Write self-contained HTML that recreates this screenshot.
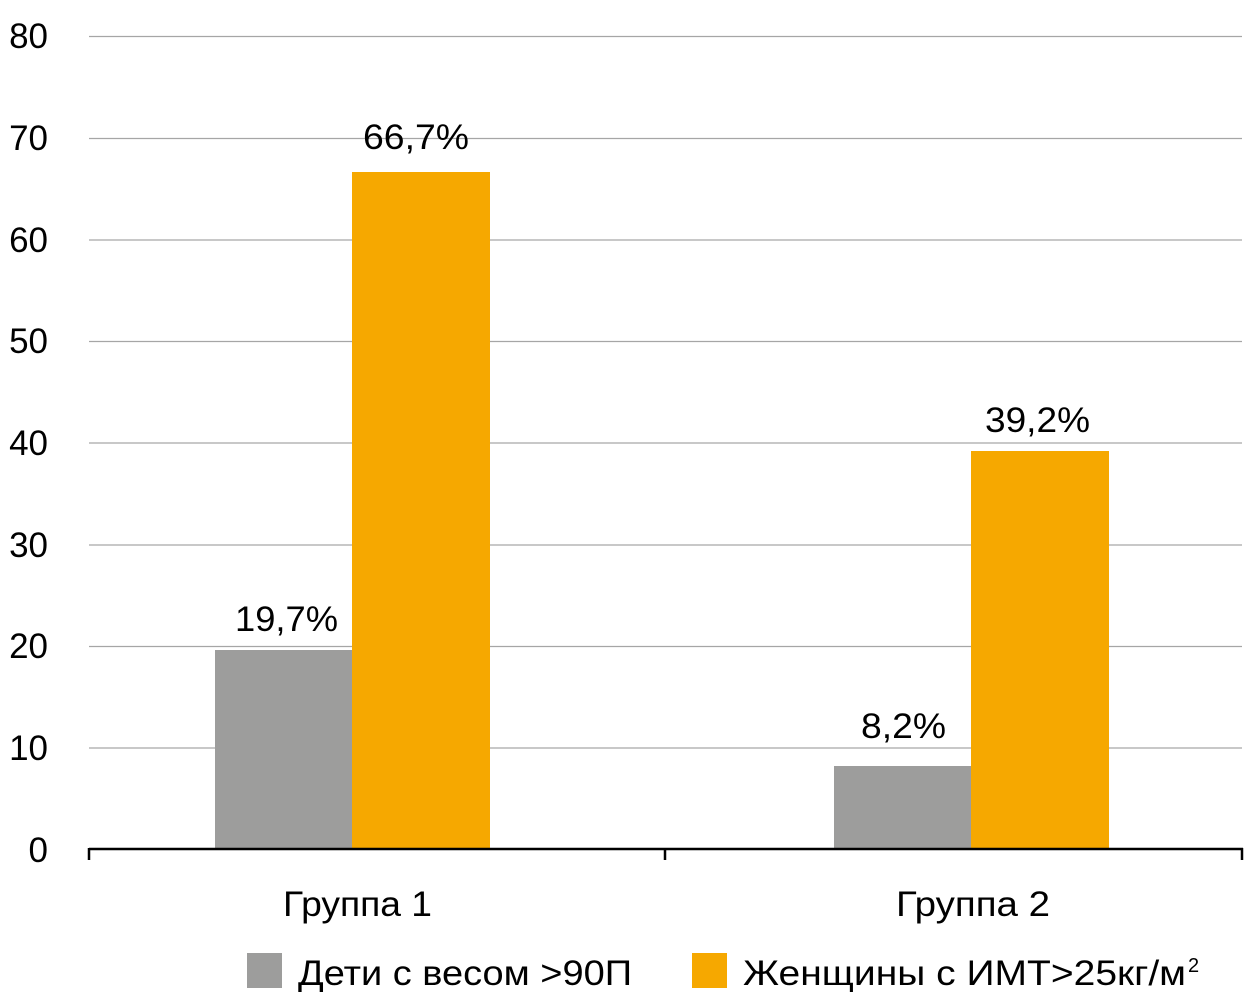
<!DOCTYPE html>
<html><head><meta charset="utf-8"><style>body{margin:0;background:#fff}</style></head><body>
<svg width="1244" height="1003" xmlns="http://www.w3.org/2000/svg" font-family="Liberation Sans, sans-serif" fill="#000">
<g stroke="#a6a6a6" stroke-width="1.3">
<line x1="89" x2="1242" y1="36.5" y2="36.5"/>
<line x1="89" x2="1242" y1="138.5" y2="138.5"/>
<line x1="89" x2="1242" y1="240" y2="240"/>
<line x1="89" x2="1242" y1="341.5" y2="341.5"/>
<line x1="89" x2="1242" y1="443" y2="443"/>
<line x1="89" x2="1242" y1="545" y2="545"/>
<line x1="89" x2="1242" y1="646.5" y2="646.5"/>
<line x1="89" x2="1242" y1="748" y2="748"/>
</g>
<g font-size="35" text-anchor="end">
<text x="48" y="48">80</text><text x="48" y="150">70</text><text x="48" y="252">60</text><text x="48" y="353">50</text><text x="48" y="455">40</text><text x="48" y="557">30</text><text x="48" y="658">20</text><text x="48" y="760">10</text><text x="48" y="862">0</text>
</g>
<rect x="215" y="650" width="137" height="199" fill="#9d9d9c"/>
<rect x="352" y="172" width="138" height="677" fill="#f6a800"/>
<rect x="834" y="766" width="137" height="83" fill="#9d9d9c"/>
<rect x="971" y="451" width="138" height="398" fill="#f6a800"/>
<g stroke="#000" stroke-width="2.5" fill="none">
<line x1="89" x2="1243" y1="849" y2="849"/>
<line x1="89" x2="89" y1="848" y2="860"/>
<line x1="665" x2="665" y1="848" y2="860"/>
<line x1="1242" x2="1242" y1="848" y2="860"/>
</g>
<g font-size="35" lengthAdjust="spacingAndGlyphs">
<text x="235" y="631" textLength="103" lengthAdjust="spacingAndGlyphs">19,7%</text>
<text x="363" y="149" textLength="106" lengthAdjust="spacingAndGlyphs">66,7%</text>
<text x="861" y="738" textLength="85" lengthAdjust="spacingAndGlyphs">8,2%</text>
<text x="985" y="432" textLength="105" lengthAdjust="spacingAndGlyphs">39,2%</text>
<text x="283" y="916" textLength="149" lengthAdjust="spacingAndGlyphs">Группа 1</text>
<text x="896" y="916" textLength="154" lengthAdjust="spacingAndGlyphs">Группа 2</text>
</g>
<rect x="247" y="953" width="35" height="35" fill="#9d9d9c"/>
<rect x="692" y="953" width="35" height="35" fill="#f6a800"/>
<text x="298" y="985" font-size="35" textLength="334" lengthAdjust="spacingAndGlyphs">Дети с весом &gt;90П</text>
<text x="743" y="985" font-size="35" textLength="443" lengthAdjust="spacingAndGlyphs">Женщины с ИМТ&gt;25кг/м</text>
<text x="1188" y="972" font-size="20">2</text>
</svg>
</body></html>
